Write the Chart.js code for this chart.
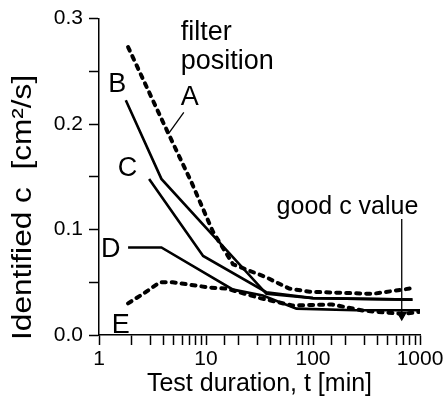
<!DOCTYPE html>
<html>
<head>
<meta charset="utf-8">
<script src="https://cdn.jsdelivr.net/npm/chart.js@4.4.0/dist/chart.umd.min.js"></script>
<style>
  html, body { margin: 0; padding: 0; background: #fff; }
  canvas { display: block; }
</style>
</head>
<body>
<canvas id="chart" width="447" height="409"></canvas>
<script>
// test duration t [min] and identified c [cm2/s] per filter position
const timeA = [1.87, 4, 7.3, 11.6, 17.9, 36, 60, 93, 360, 800];
const valueA = [0.273, 0.201, 0.145, 0.098, 0.067, 0.055, 0.044, 0.041, 0.039, 0.044];

const timeB = [1.78, 3.83, 36.7, 100, 850];
const valueB = [0.2225, 0.148, 0.039, 0.035, 0.0335];

const timeC = [2.94, 9.4, 36.6, 100, 850];
const valueC = [0.148, 0.075, 0.0406, 0.035, 0.0335];

const timeD = [1.87, 3.83, 17.9, 34, 70, 250, 1000];
const valueD = [0.083, 0.083, 0.043, 0.0375, 0.025, 0.0234, 0.0234];

const timeE = [1.87, 2.58, 3.7, 4.9, 10.8, 15.5, 32, 64, 150, 300, 700, 1000];
const valueE = [0.030, 0.039, 0.050, 0.050, 0.045, 0.044, 0.035, 0.028, 0.029, 0.023, 0.020, 0.022];

// "good c value" pointer and the leader from label A
const goodTime = [675, 675];
const goodValue = [0.110, 0.019];
const leaderTime = [4.5, 6.2];
const leaderValue = [0.1915, 0.211];

const xTicks = [1, 10, 100, 1000];
const yTicks = [0.0, 0.1, 0.2, 0.3];

const fontFamily = "'Liberation Sans', Arial, sans-serif";

// text placed in data coordinates
const notes = [
    { text: 'filter', x: 5.8, y: 0.287, align: 'left' },
    { text: 'position', x: 5.8, y: 0.259, align: 'left' },
    { text: 'A', x: 7.04, y: 0.225 },
    { text: 'B', x: 1.48, y: 0.237 },
    { text: 'C', x: 1.85, y: 0.158 },
    { text: 'D', x: 1.29, y: 0.081 },
    { text: 'E', x: 1.60, y: 0.0094 },
    { text: 'good c value', x: 210, y: 0.121, size: 25 }
];

function toPoints(xs, ys) {
    return xs.map((x, i) => ({ x: x, y: ys[i] }));
}

function curve(label, xs, ys, dashed) {
    return {
        label: label,
        data: toPoints(xs, ys),
        borderColor: '#000',
        borderWidth: dashed ? 4 : 2.6,
        borderDash: dashed ? [4, 6] : [],
        borderCapStyle: dashed ? 'round' : 'butt',
        pointRadius: 0,
        tension: 0,
        fill: false
    };
}

const notePlugin = {
    id: 'notes',
    afterDraw(chart) {
        const ctx = chart.ctx;
        const xs = chart.scales.x;
        const ys = chart.scales.y;
        ctx.save();
        ctx.fillStyle = '#000';
        ctx.textBaseline = 'middle';
        notes.forEach(n => {
            ctx.font = (n.size || 27) + 'px ' + fontFamily;
            ctx.textAlign = n.align || 'center';
            ctx.fillText(n.text, xs.getPixelForValue(n.x), ys.getPixelForValue(n.y));
        });
        // y axis title, drawn by hand: it sits lower than the axis centre and runs a bit wide
        ctx.translate(ys.left + 24, ys.getPixelForValue(0.121));
        ctx.rotate(-Math.PI / 2);
        ctx.scale(1.17, 1);
        ctx.textAlign = 'center';
        ctx.font = '27px ' + fontFamily;
        ctx.fillText('Identified c  [cm\u00b2/s]', 0, 0);
        ctx.restore();
    }
};

const axisLine = { display: true, color: '#000', width: 1.5 };
const tickMarks = {
    display: true,
    drawOnChartArea: false,
    drawTicks: true,
    tickLength: 10,
    tickColor: '#000',
    tickWidth: 1.5
};

new Chart(document.getElementById('chart'), {
    type: 'line',
    data: {
        datasets: [
            curve('A', timeA, valueA, true),
            curve('B', timeB, valueB, false),
            curve('C', timeC, valueC, false),
            curve('D', timeD, valueD, false),
            curve('E', timeE, valueE, true),
            {
                label: 'good c value',
                data: toPoints(goodTime, goodValue),
                borderColor: '#000',
                backgroundColor: '#000',
                borderWidth: 1.3,
                pointRadius: [0, 5],
                pointStyle: 'triangle',
                rotation: 180,
                tension: 0
            },
            {
                label: 'leader',
                data: toPoints(leaderTime, leaderValue),
                borderColor: '#000',
                borderWidth: 1.3,
                pointRadius: 0
            }
        ]
    },
    options: {
        responsive: false,
        animation: false,
        layout: { padding: { top: 15, right: 27, left: 0, bottom: 0 } },
        plugins: {
            legend: { display: false },
            tooltip: { enabled: false }
        },
        scales: {
            x: {
                type: 'logarithmic',
                min: 1,
                max: 1000,
                border: axisLine,
                grid: tickMarks,
                ticks: {
                    color: '#000',
                    font: { size: 21, family: fontFamily },
                    padding: 2,
                    maxRotation: 0,
                    autoSkip: false,
                    callback: function(value) {
                        return xTicks.includes(value) ? String(value) : '';
                    }
                },
                title: {
                    display: true,
                    text: 'Test duration, t [min]',
                    color: '#000',
                    font: { size: 25, family: fontFamily },
                    padding: { top: 0, bottom: 10 }
                },
                afterFit: function(scale) { scale.height = 74; }
            },
            y: {
                type: 'linear',
                min: 0,
                max: 0.3,
                border: axisLine,
                grid: tickMarks,
                ticks: {
                    color: '#000',
                    stepSize: 0.05,
                    font: { size: 21, family: fontFamily },
                    padding: 6,
                    callback: function(value) {
                        const hit = yTicks.find(t => Math.abs(t - value) < 1e-6);
                        return hit === undefined ? '' : hit.toFixed(1);
                    }
                },
                afterFit: function(scale) { scale.width = 99; }
            }
        }
    },
    plugins: [notePlugin]
});
</script>
</body>
</html>
